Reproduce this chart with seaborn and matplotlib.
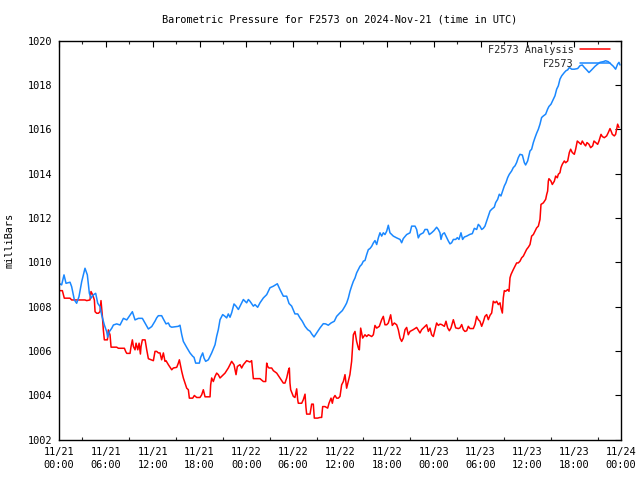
import numpy as np
import pandas as pd
import matplotlib
matplotlib.use("Agg")
import matplotlib.pyplot as plt
import seaborn as sns

# Hours since 2024-11-21 00:00 UTC and pressure (mb)
obs_hours = [0.00, 0.34, 0.64, 0.90, 1.41, 1.62, 1.97, 2.26, 2.56, 2.91, 3.33, 3.63, 3.89, 4.10, 4.40, 4.70,
             4.96, 5.26, 5.47, 5.81, 6.11, 6.24, 6.45, 6.75, 6.97, 7.39, 7.82, 8.25, 8.68, 9.10, 9.40, 9.74,
             10.17, 10.68, 11.03, 11.45, 11.88, 12.31, 12.51, 12.73, 13.15, 13.37, 13.71, 14.01, 14.22, 14.44,
             15.29, 15.50, 15.72, 15.93, 16.36, 16.78, 17.13, 17.30, 17.51, 17.98, 18.15, 18.41, 18.58, 18.79,
             19.13, 19.56, 19.99, 20.20, 20.41, 20.63, 20.97, 21.27, 21.48, 21.69, 21.91, 22.12, 22.42, 22.68,
             22.98, 23.19, 23.40, 23.62, 24.04, 24.26, 24.47, 24.90, 25.11, 25.45, 25.75, 26.18, 26.61, 27.03,
             27.46, 27.97, 28.31, 28.74, 29.17, 29.47, 29.81, 30.23, 30.58, 30.87, 31.17, 31.52, 31.86, 32.16,
             32.37, 32.67, 33.01, 33.44, 33.86, 34.16, 34.50, 34.85, 35.27, 35.57, 36.00, 36.30, 36.64, 36.85,
             37.07, 37.28, 37.49, 37.71, 37.92, 38.13, 38.35, 38.56, 38.78, 38.99, 39.20, 39.42, 39.63, 39.84,
             40.06, 40.27, 40.48, 40.70, 40.91, 41.12, 41.34, 41.55, 41.76, 41.98, 42.19, 42.40, 42.83, 43.26,
             43.69, 43.90, 44.11, 44.54, 44.97, 45.18, 45.61, 45.82, 46.03, 46.25, 46.67, 46.89, 47.19, 47.44,
             47.74, 48.04, 48.38, 48.60, 48.81, 48.94, 49.11, 49.37, 49.58, 49.88, 50.09, 50.30, 50.52, 50.82,
             51.03, 51.24, 51.50, 51.71, 51.93, 52.23, 52.65, 52.95, 53.21, 53.51, 53.72, 53.93, 54.15, 54.36,
             54.57, 54.79, 55.00, 55.22, 55.43, 55.77, 55.94, 56.20, 56.41, 56.62, 56.84, 57.05, 57.26, 57.48,
             57.69, 57.99, 58.20, 58.42, 58.63, 58.84, 59.06, 59.36, 59.61, 59.78, 60.04, 60.34, 60.55, 60.77,
             60.98, 61.19, 61.41, 61.62, 61.83, 62.05, 62.35, 62.60, 62.77, 63.03, 63.33, 63.54, 63.76, 63.97,
             64.18, 64.40, 64.74, 64.95, 65.17, 65.38, 65.68, 66.02, 66.45, 66.75, 67.04, 67.30, 67.60, 67.90,
             68.24, 68.67, 69.01, 69.31, 69.73, 70.03, 70.37, 70.72, 71.02, 71.31, 71.57, 71.74, 71.87]
obs_mb = [1009.05, 1008.98, 1009.43, 1009.05, 1009.10, 1008.90, 1008.30, 1008.15, 1008.45, 1009.13, 1009.73,
          1009.43, 1008.60, 1008.38, 1008.53, 1008.60, 1008.15, 1008.00, 1007.62, 1007.17, 1006.87, 1006.62,
          1006.87, 1007.02, 1007.17, 1007.22, 1007.17, 1007.47, 1007.40, 1007.62, 1007.77, 1007.40, 1007.47,
          1007.47, 1007.25, 1006.99, 1007.10, 1007.35, 1007.49, 1007.59, 1007.59, 1007.44, 1007.22, 1007.26,
          1007.11, 1007.07, 1007.11, 1007.16, 1006.74, 1006.43, 1006.16, 1005.91, 1005.76, 1005.71, 1005.45,
          1005.45, 1005.71, 1005.91, 1005.68, 1005.53, 1005.60, 1005.91, 1006.28, 1006.66, 1006.96, 1007.41,
          1007.64, 1007.56, 1007.49, 1007.67, 1007.52, 1007.72, 1008.12, 1008.02, 1007.87, 1008.02, 1008.17,
          1008.32, 1008.17, 1008.32, 1008.24, 1008.02, 1008.09, 1007.97, 1008.17, 1008.39, 1008.54, 1008.85,
          1008.92, 1009.03, 1008.77, 1008.47, 1008.47, 1008.14, 1008.02, 1007.67, 1007.67, 1007.49, 1007.34,
          1007.11, 1006.96, 1006.89, 1006.77, 1006.63, 1006.81, 1007.04, 1007.23, 1007.22, 1007.16, 1007.26,
          1007.34, 1007.56, 1007.72, 1007.82, 1008.02, 1008.16, 1008.39, 1008.69, 1008.92, 1009.14, 1009.29,
          1009.52, 1009.67, 1009.82, 1009.90, 1010.05, 1010.08, 1010.35, 1010.57, 1010.62, 1010.72, 1010.87,
          1010.98, 1010.80, 1011.10, 1011.33, 1011.18, 1011.33, 1011.25, 1011.40, 1011.67, 1011.33, 1011.18,
          1011.10, 1011.03, 1010.88, 1011.07, 1011.25, 1011.33, 1011.63, 1011.63, 1011.48, 1011.10, 1011.25,
          1011.33, 1011.48, 1011.48, 1011.25, 1011.33, 1011.43, 1011.58, 1011.48, 1011.33, 1011.03, 1011.26,
          1011.33, 1011.18, 1010.96, 1010.83, 1010.88, 1011.03, 1011.03, 1011.11, 1011.03, 1011.33, 1011.03,
          1011.14, 1011.18, 1011.26, 1011.29, 1011.53, 1011.48, 1011.71, 1011.63, 1011.48, 1011.53, 1011.63,
          1011.86, 1012.09, 1012.31, 1012.39, 1012.49, 1012.69, 1012.84, 1013.07, 1012.99, 1013.22, 1013.44,
          1013.59, 1013.82, 1013.97, 1014.12, 1014.27, 1014.35, 1014.50, 1014.72, 1014.87, 1014.84, 1014.50,
          1014.39, 1014.57, 1015.02, 1015.10, 1015.40, 1015.62, 1015.82, 1016.00, 1016.23, 1016.53, 1016.60,
          1016.68, 1016.91, 1017.03, 1017.13, 1017.36, 1017.51, 1017.81, 1017.96, 1018.26, 1018.41, 1018.56,
          1018.64, 1018.68, 1018.79, 1018.71, 1018.71, 1018.74, 1018.87, 1018.90, 1018.79, 1018.68, 1018.56,
          1018.68, 1018.84, 1018.94, 1019.02, 1019.05, 1019.09, 1019.05, 1018.94, 1018.84, 1018.71, 1018.94,
          1019.02, 1018.90]

ana_hours = [0.00, 0.43, 0.68, 1.41, 1.62, 3.33, 3.55, 3.97, 4.10, 4.32, 4.53, 4.62, 4.83, 5.04, 5.26, 5.38,
             5.56, 5.68, 5.81, 6.20, 6.32, 6.54, 6.67, 7.39, 7.61, 8.38, 8.55, 8.68, 9.10, 9.23, 9.40, 9.53,
             9.74, 9.87, 10.09, 10.26, 10.43, 10.51, 10.68, 11.03, 11.24, 11.45, 12.09, 12.30, 12.51, 12.73,
             12.94, 13.15, 13.37, 13.58, 13.71, 14.01, 14.44, 14.65, 15.08, 15.29, 15.42, 15.59, 15.72, 15.93,
             16.14, 16.36, 16.57, 16.70, 17.13, 17.34, 17.64, 18.06, 18.28, 18.49, 18.71, 19.35, 19.43, 19.56,
             19.77, 19.99, 20.20, 20.41, 20.63, 20.84, 21.27, 21.69, 22.12, 22.42, 22.68, 22.85, 23.19, 23.40,
             23.62, 24.04, 24.47, 24.68, 24.90, 25.75, 26.18, 26.48, 26.61, 26.73, 26.90, 27.25, 27.46, 27.89,
             28.31, 28.74, 28.95, 29.17, 29.38, 29.51, 29.59, 29.68, 30.02, 30.23, 30.45, 30.58, 30.66, 31.09,
             31.30, 31.52, 31.64, 31.73, 32.16, 32.37, 32.58, 32.71, 33.14, 33.44, 33.65, 33.78, 34.08, 34.42,
             34.59, 34.85, 35.02, 35.15, 35.36, 35.57, 35.79, 36.00, 36.21, 36.43, 36.64, 36.85, 37.06, 37.27,
             37.49, 37.71, 37.92, 38.13, 38.35, 38.48, 38.65, 38.90, 39.20, 39.42, 39.63, 40.06, 40.27, 40.48,
             40.70, 41.04, 41.34, 41.55, 41.76, 41.98, 42.19, 42.49, 42.70, 42.96, 43.26, 43.47, 43.69, 43.90,
             44.11, 44.33, 44.54, 44.75, 44.97, 45.39, 45.82, 46.25, 46.46, 46.89, 47.10, 47.32, 47.53, 47.74,
             47.96, 48.17, 48.38, 48.60, 48.81, 49.02, 49.37, 49.58, 49.79, 50.01, 50.22, 50.52, 50.82, 51.16,
             51.37, 51.59, 51.80, 52.01, 52.23, 52.44, 52.65, 53.08, 53.29, 53.51, 53.72, 53.93, 54.15, 54.36,
             54.57, 54.79, 55.00, 55.22, 55.43, 55.64, 55.86, 56.07, 56.28, 56.50, 56.62, 56.80, 56.92, 57.05,
             57.22, 57.48, 57.65, 57.78, 57.91, 58.20, 58.42, 58.63, 58.84, 59.06, 59.27, 59.49, 59.70, 59.91,
             60.13, 60.34, 60.55, 60.77, 60.98, 61.19, 61.41, 61.62, 61.75, 62.05, 62.35, 62.48, 62.60, 62.69,
             62.77, 63.03, 63.20, 63.46, 63.63, 63.84, 63.97, 64.18, 64.31, 64.48, 64.74, 64.91, 65.17, 65.38,
             65.55, 65.76, 66.02, 66.19, 66.40, 66.62, 66.87, 67.04, 67.30, 67.47, 67.64, 67.90, 68.11, 68.37,
             68.54, 68.75, 69.01, 69.18, 69.44, 69.61, 69.86, 70.16, 70.37, 70.59, 70.72, 70.89, 71.14, 71.31,
             71.44, 71.57, 71.74]
ana_mb = [1008.72, 1008.72, 1008.38, 1008.38, 1008.30, 1008.30, 1008.27, 1008.30, 1008.68, 1008.53, 1008.30,
          1007.77, 1007.70, 1007.70, 1007.77, 1008.27, 1007.55, 1006.95, 1006.50, 1006.50, 1006.95, 1006.72,
          1006.17, 1006.17, 1006.12, 1006.12, 1005.97, 1005.89, 1005.89, 1006.20, 1006.50, 1006.20, 1006.05,
          1006.35, 1006.05, 1006.35, 1005.86, 1006.20, 1006.50, 1006.50, 1006.05, 1005.65, 1005.56, 1005.98,
          1005.98, 1005.91, 1005.91, 1005.60, 1005.91, 1005.53, 1005.56, 1005.38, 1005.15, 1005.23, 1005.26,
          1005.45, 1005.60, 1005.30, 1005.08, 1004.78, 1004.55, 1004.32, 1004.25, 1003.87, 1003.87, 1003.99,
          1003.90, 1003.90, 1004.02, 1004.25, 1003.93, 1003.93, 1004.47, 1004.78, 1004.62, 1004.85, 1005.00,
          1004.93, 1004.78, 1004.85, 1005.00, 1005.23, 1005.53, 1005.38, 1004.93, 1005.30, 1005.38, 1005.23,
          1005.38, 1005.56, 1005.50, 1005.56, 1004.75, 1004.75, 1004.62, 1004.62, 1005.45, 1005.30, 1005.23,
          1005.23, 1005.11, 1005.00, 1004.78, 1004.55, 1004.55, 1004.78, 1005.11, 1005.23, 1004.55, 1004.25,
          1003.95, 1003.90, 1004.29, 1003.80, 1003.64, 1003.64, 1003.80, 1004.05, 1003.45, 1003.15, 1003.15,
          1003.60, 1003.60, 1002.97, 1002.97, 1003.00, 1003.00, 1003.49, 1003.49, 1003.42, 1003.64, 1003.87,
          1003.64, 1003.87, 1003.99, 1003.87, 1003.87, 1003.95, 1004.47, 1004.62, 1004.93, 1004.32, 1004.62,
          1004.93, 1005.53, 1006.73, 1006.88, 1006.43, 1006.13, 1006.05, 1007.03, 1006.58, 1006.73, 1006.65,
          1006.73, 1006.65, 1006.73, 1007.15, 1007.03, 1007.11, 1007.41, 1007.56, 1007.18, 1007.18, 1007.26,
          1007.63, 1007.15, 1007.26, 1007.18, 1006.96, 1006.58, 1006.43, 1006.58, 1006.96, 1007.06, 1006.73,
          1006.88, 1006.96, 1007.06, 1006.81, 1006.96, 1007.11, 1007.18, 1006.88, 1007.03, 1006.73, 1006.65,
          1006.96, 1007.26, 1007.15, 1007.21, 1007.19, 1007.11, 1007.34, 1007.04, 1006.91, 1007.04, 1007.41,
          1007.04, 1007.01, 1007.04, 1007.19, 1006.96, 1006.88, 1006.91, 1007.11, 1007.01, 1007.01, 1007.19,
          1007.56, 1007.41, 1007.34, 1007.11, 1007.31, 1007.56, 1007.64, 1007.41, 1007.61, 1007.71, 1008.24,
          1008.17, 1008.24, 1008.09, 1008.17, 1007.94, 1007.71, 1008.39, 1008.72, 1008.69, 1008.77, 1008.69,
          1009.30, 1009.45, 1009.67, 1009.82, 1009.97, 1009.97, 1010.05, 1010.20, 1010.28, 1010.43, 1010.58,
          1010.68, 1010.80, 1011.18, 1011.25, 1011.40, 1011.55, 1011.63, 1011.93, 1012.61, 1012.68, 1012.84,
          1013.06, 1013.21, 1013.66, 1013.77, 1013.66, 1013.51, 1013.66, 1013.89, 1013.81, 1013.97, 1014.04,
          1014.27, 1014.42, 1014.57, 1014.49, 1014.57, 1014.95, 1015.10, 1014.95, 1014.87, 1015.10, 1015.47,
          1015.40, 1015.32, 1015.47, 1015.32, 1015.25, 1015.40, 1015.32, 1015.17, 1015.25, 1015.47, 1015.40,
          1015.32, 1015.47, 1015.77, 1015.67, 1015.62, 1015.70, 1015.85, 1016.03, 1015.93, 1015.77, 1015.70,
          1015.77, 1016.00, 1016.23, 1016.08]

series_labels = ["F2573 Analysis", "F2573"]
series_colors = ["#ff0000", "#1a88ff"]

xtick_hours = [0, 6, 12, 18, 24, 30, 36, 42, 48, 54, 60, 66, 72]
xtick_labels = ["11/21\n00:00", "11/21\n06:00", "11/21\n12:00", "11/21\n18:00",
                "11/22\n00:00", "11/22\n06:00", "11/22\n12:00", "11/22\n18:00",
                "11/23\n00:00", "11/23\n06:00", "11/23\n12:00", "11/23\n18:00",
                "11/24\n00:00"]
ytick_values = [1002, 1004, 1006, 1008, 1010, 1012, 1014, 1016, 1018, 1020]

title = "Barometric Pressure for F2573 on 2024-Nov-21 (time in UTC)"
ylabel = "milliBars"

sns.set_theme(style="white")
plt.rcParams["font.family"] = ["DejaVu Sans Mono"]
fs = 7.4

fig = plt.figure(figsize=(6.4, 4.8), dpi=100)
W, H = 640, 480
left, right, top, bottom = 59, 621, 40.6, 439.6
ax = fig.add_axes([left / W, 1 - bottom / H, (right - left) / W, (bottom - top) / H])

df_ana = pd.DataFrame({"hours": ana_hours, "mb": ana_mb})
df_obs = pd.DataFrame({"hours": obs_hours, "mb": obs_mb})

sns.lineplot(data=df_ana, x="hours", y="mb", ax=ax, color=series_colors[0], lw=1.1,
             label=series_labels[0], estimator=None, sort=False)
sns.lineplot(data=df_obs, x="hours", y="mb", ax=ax, color=series_colors[1], lw=1.1,
             label=series_labels[1], estimator=None, sort=False)

ax.set_xlim(0, 72)
ax.set_ylim(1002, 1020)
ax.set_xticks(xtick_hours)
ax.set_xticklabels(xtick_labels, fontsize=fs, linespacing=1.45)
ax.set_xticks(np.arange(3, 72, 6), minor=True)
ax.set_yticks(ytick_values)
ax.set_yticklabels([str(v) for v in ytick_values], fontsize=fs)
ax.tick_params(axis="both", which="major", direction="in", length=4, width=0.8,
               top=True, right=True, color="black", labelcolor="black")
ax.tick_params(axis="x", which="major", pad=5)
ax.tick_params(axis="y", which="major", pad=5)
ax.tick_params(axis="x", which="minor", direction="in", length=2.5, width=0.8, top=True, bottom=True)
ax.set_xlabel("")
ax.set_ylabel("")
for s in ax.spines.values():
    s.set_color("black")
    s.set_linewidth(1.0)
ax.grid(False)

fig.text(340 / W, 1 - 19 / H, title, ha="center", va="center", fontsize=fs, color="black")
fig.text(10 / W, 1 - 240 / H, ylabel, ha="center", va="center", rotation=90, fontsize=fs, color="black")

ax.legend(loc="upper right", frameon=False, markerfirst=False, fontsize=fs,
          handlelength=2.9, handletextpad=0.6, labelspacing=0.42,
          borderaxespad=0.0, borderpad=0.3,
          bbox_to_anchor=(1 - 8 / 562, 1 - 1 / 399))

fig.savefig("out.png", dpi=100)
